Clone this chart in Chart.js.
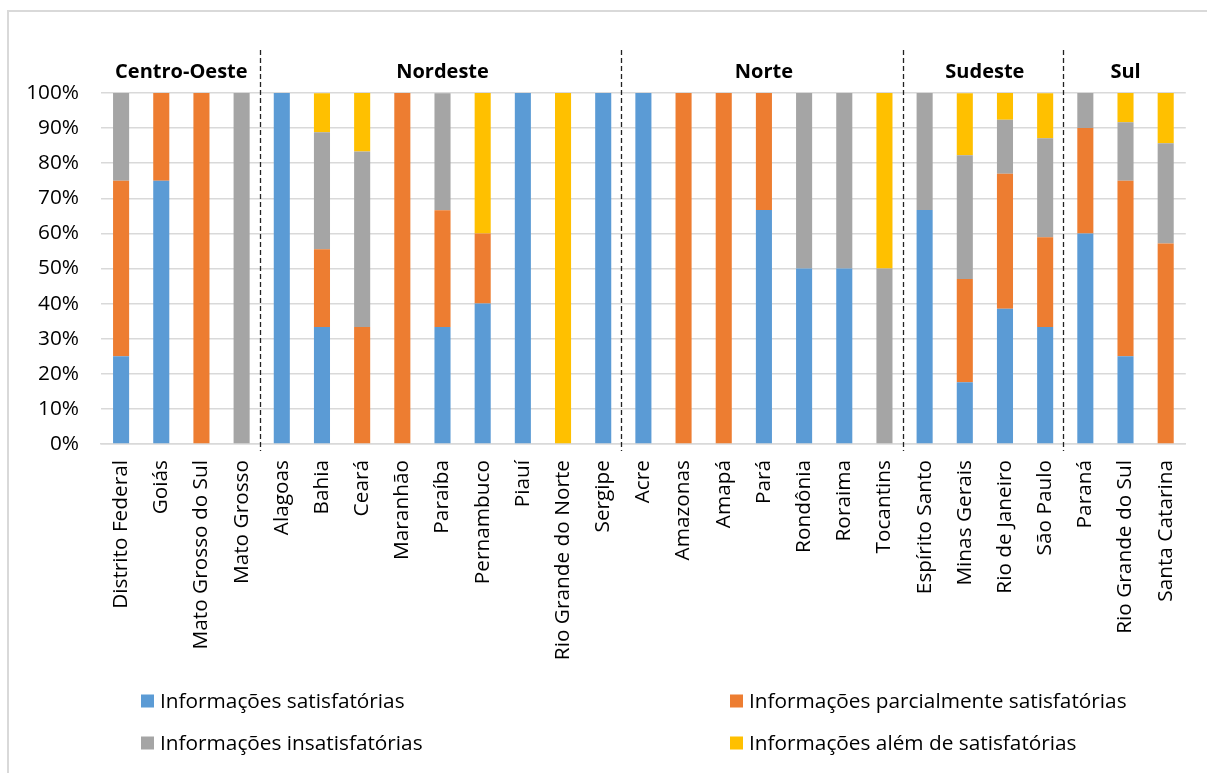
<!DOCTYPE html>
<html>
<head>
<meta charset="utf-8">
<script src="https://cdn.jsdelivr.net/npm/chart.js@4"></script>
<style>
  html, body { margin: 0; padding: 0; overflow: hidden; background: #fff; }
  #frame { position: absolute; left: 7px; top: 10px; width: 1240px; height: 820px; border: 2px solid #d9d9d9; box-sizing: border-box; }
  #wrap { position: absolute; left: 0; top: 0; width: 1207px; height: 773px; }
</style>
</head>
<body>
<div id="frame"></div>
<div id="wrap"><canvas id="myChart"></canvas></div>
<script>
const ctx = document.getElementById('myChart');

// estados, na ordem do gráfico
const states = ['Distrito Federal', 'Goiás', 'Mato Grosso do Sul', 'Mato Grosso',
  'Alagoas', 'Bahia', 'Ceará', 'Maranhão', 'Paraíba', 'Pernambuco', 'Piauí', 'Rio Grande do Norte', 'Sergipe',
  'Acre', 'Amazonas', 'Amapá', 'Pará', 'Rondônia', 'Roraima', 'Tocantins',
  'Espírito Santo', 'Minas Gerais', 'Rio de Janeiro', 'São Paulo',
  'Paraná', 'Rio Grande do Sul', 'Santa Catarina'];

const regions = ['Centro-Oeste', 'Nordeste', 'Norte', 'Sudeste', 'Sul'];
const regionSizes = [4, 9, 7, 4, 3];

// valores em %
const satisfatorias = [25, 75, 0, 0, 100, 33.3, 0, 0, 33.3, 40, 100, 0, 100, 100, 0, 0, 66.7, 50, 50, 0, 66.7, 17.6, 38.5, 33.3, 60, 25, 0];
const parcialmente = [50, 25, 100, 0, 0, 22.2, 33.3, 100, 33.3, 20, 0, 0, 0, 0, 100, 100, 33.3, 0, 0, 0, 0, 29.4, 38.5, 25.6, 30, 50, 57.1];
const insatisfatorias = [25, 0, 0, 100, 0, 33.3, 50, 0, 33.3, 0, 0, 0, 0, 0, 0, 0, 0, 50, 50, 50, 33.3, 35.3, 15.4, 28.2, 10, 16.7, 28.6];
const alem = [0, 0, 0, 0, 0, 11.1, 16.7, 0, 0, 40, 0, 100, 0, 0, 0, 0, 0, 0, 0, 50, 0, 17.6, 7.7, 12.8, 0, 8.3, 14.3];

const yTicks = [0, 10, 20, 30, 40, 50, 60, 70, 80, 90, 100];

const font = "'Open Sans', sans-serif";

const bar = (label, data, color) => ({
  label: label,
  data: data,
  backgroundColor: color,
  borderWidth: 0,
  barPercentage: 0.4,
  categoryPercentage: 1
});

const data = {
  labels: states,
  datasets: [
    bar('Informações satisfatórias', satisfatorias, '#5B9BD5'),
    bar('Informações parcialmente satisfatórias', parcialmente, '#ED7D31'),
    bar('Informações insatisfatórias', insatisfatorias, '#A5A5A5'),
    bar('Informações além de satisfatórias', alem, '#FFC000')
  ]
};

// títulos das regiões, separadores tracejados e legenda em duas colunas
const extras = {
  id: 'extras',
  afterDraw(chart) {
    const c = chart.ctx;
    const x = chart.scales.x;
    c.save();
    c.fillStyle = '#000';
    c.font = "bold 20px " + font;
    c.textAlign = 'center';
    c.textBaseline = 'middle';
    let start = 0;
    regions.forEach((name, i) => {
      const end = start + regionSizes[i] - 1;
      const cx = (x.getPixelForValue(start) + x.getPixelForValue(end)) / 2;
      c.fillText(name, cx, 72);
      if (i > 0) {
        const sx = Math.round((x.getPixelForValue(start - 1) + x.getPixelForValue(start)) / 2) - 1.5;
        c.beginPath();
        c.setLineDash([5, 3]);
        c.strokeStyle = '#222';
        c.lineWidth = 1.3;
        c.moveTo(sx, 50);
        c.lineTo(sx, 451);
        c.stroke();
      }
      start += regionSizes[i];
    });
    c.setLineDash([]);

    const colX = [141, 730];
    const rowY = [701, 743];
    c.font = "20.8px " + font;
    c.textAlign = 'left';
    chart.data.datasets.forEach((ds, i) => {
      const lx = colX[i % 2];
      const ly = rowY[Math.floor(i / 2)];
      c.fillStyle = ds.backgroundColor;
      c.fillRect(lx, ly - 6.5, 13, 13);
      c.fillStyle = '#000';
      c.fillText(ds.label, lx + 19, ly + 1);
    });
    c.restore();
  }
};

const config = {
  type: 'bar',
  data: data,
  options: {
    responsive: true,
    maintainAspectRatio: false,
    animation: false,
    layout: { padding: { left: 0, right: 19, top: 93, bottom: 0 } },
    plugins: {
      legend: { display: false },
      tooltip: { enabled: false }
    },
    scales: {
      x: {
        stacked: true,
        grid: { display: false, drawTicks: false },
        border: { color: '#d9d9d9', width: 1.5 },
        ticks: {
          autoSkip: false,
          minRotation: 90,
          maxRotation: 90,
          padding: 16,
          color: '#000',
          font: { family: font, size: 20.8 }
        },
        afterFit: s => { s.height = 773 - 444; }
      },
      y: {
        stacked: true,
        min: 0,
        max: 100,
        afterBuildTicks: s => { s.ticks = yTicks.map(v => ({ value: v })); },
        grid: { color: '#d9d9d9', lineWidth: 1.5, drawTicks: false },
        border: { display: false },
        ticks: {
          padding: 22,
          color: '#000',
          font: { family: font, size: 20.8 },
          callback: v => v + '%'
        },
        afterFit: s => { s.width = 101; }
      }
    }
  },
  plugins: [extras]
};

const stackChart = new Chart(ctx, config);
</script>
</body>
</html>
